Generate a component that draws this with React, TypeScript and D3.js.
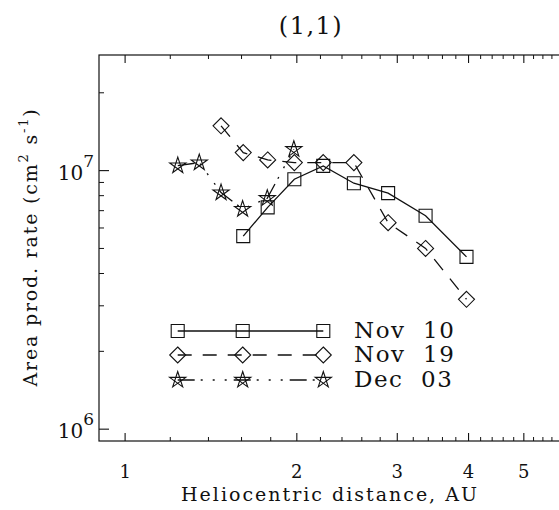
import React from "react";
import * as d3 from "d3";

const W = 559;
const H = 510;

// Data (heliocentric distance in AU, area production rate cm^2 s^-1)
const nov10X = [1.611, 1.778, 1.98, 2.225, 2.518, 2.891, 3.363, 3.967];
const nov10Y = [5.58e6, 7.21e6, 9.26e6, 1.043e7, 8.94e6, 8.18e6, 6.69e6, 4.64e6];

const nov19X = [1.473, 1.611, 1.778, 1.98, 2.225, 2.518, 2.891, 3.363, 3.967];
const nov19Y = [1.49e7, 1.174e7, 1.1e7, 1.074e7, 1.074e7, 1.074e7, 6.29e6, 5.0e6, 3.18e6];

const dec03X = [1.237, 1.349, 1.473, 1.607, 1.775, 1.976];
const dec03Y = [1.046e7, 1.074e7, 8.22e6, 7.1e6, 7.82e6, 1.21e7];

const seriesNames = ["Nov 10", "Nov 19", "Dec 03"];
const xMajorTicks = [1, 2, 3, 4, 5];
const yMajorTicks = [1e6, 1e7];

const FONT = "'DejaVu Serif', serif";
const INK = "#111";

function symbolPath(kind: string, cx: number, cy: number): string {
  if (kind === "square") {
    const s = 6.5;
    return `M${cx - s},${cy - s}H${cx + s}V${cy + s}H${cx - s}Z`;
  }
  if (kind === "diamond") {
    const s = 8;
    return `M${cx},${cy - s}L${cx + s},${cy}L${cx},${cy + s}L${cx - s},${cy}Z`;
  }
  // pentagram
  const r = 8.5;
  const pts: [number, number][] = [];
  for (let k = 0; k < 5; k++) {
    const a = (-90 + k * 144) * (Math.PI / 180);
    pts.push([cx + r * Math.cos(a), cy + r * Math.sin(a)]);
  }
  return "M" + pts.map((p) => p.join(",")).join("L") + "Z";
}

export default function App() {
  const x0 = 99, x1 = 569, yTop = 55, yBot = 441;
  const x = d3.scaleLog().domain([0.9, 6]).range([x0, x1]);
  const y = d3.scaleLog().domain([9e5, 2.8e7]).range([yBot, yTop]);

  const xMinor: number[] = [];
  for (let v = 1.2; v < 6; v += 0.2) {
    const r = Math.round(v * 10) / 10;
    if (!xMajorTicks.includes(r)) xMinor.push(r);
  }
  const yMinor: number[] = [];
  [1e6, 1e7].forEach((d) => {
    for (let m = 2; m <= 9; m++) {
      const v = d * m;
      if (v < 2.8e7) yMinor.push(v);
    }
  });

  const line = d3
    .line<[number, number]>()
    .x((d) => x(d[0]))
    .y((d) => y(d[1]));

  const series = [
    { name: seriesNames[0], xs: nov10X, ys: nov10Y, sym: "square", dash: "none" },
    { name: seriesNames[1], xs: nov19X, ys: nov19Y, sym: "diamond", dash: "14,11" },
    { name: seriesNames[2], xs: dec03X, ys: dec03Y, sym: "star", dash: "17,6,2,10,2,10,2,7" },
  ];

  const legX = [177.7, 242.7, 323.3];
  const legY = [331, 355, 380];

  return (
    <svg
      width={W}
      height={H}
      style={{ position: "fixed", left: 0, top: 0, background: "#fff" }}
      fontFamily={FONT}
    >
      <rect x={0} y={0} width={W} height={H} fill="#fff" />

      {/* title */}
      <text x={311} y={34} textAnchor="middle" fontSize={24} fill={INK} letterSpacing={1.5}>
        (1,1)
      </text>

      {/* frame */}
      <rect x={x0} y={yTop} width={x1 - x0} height={yBot - yTop} fill="none" stroke={INK} strokeWidth={1.2} />

      {/* x ticks */}
      {xMajorTicks.map((t) => (
        <g key={"xm" + t}>
          <line x1={x(t)} x2={x(t)} y1={yBot} y2={yBot - 8} stroke={INK} strokeWidth={1.1} />
          <line x1={x(t)} x2={x(t)} y1={yTop} y2={yTop + 8} stroke={INK} strokeWidth={1.1} />
          <text x={x(t)} y={478} textAnchor="middle" fontSize={18} fill={INK}>
            {t}
          </text>
        </g>
      ))}
      {xMinor.map((t) => (
        <g key={"xn" + t}>
          <line x1={x(t)} x2={x(t)} y1={yBot} y2={yBot - 4} stroke={INK} strokeWidth={1} />
          <line x1={x(t)} x2={x(t)} y1={yTop} y2={yTop + 4} stroke={INK} strokeWidth={1} />
        </g>
      ))}

      {/* y ticks */}
      {yMajorTicks.map((t) => (
        <g key={"ym" + t}>
          <line x1={x0} x2={x0 + 10} y1={y(t)} y2={y(t)} stroke={INK} strokeWidth={1.1} />
          <line x1={x1} x2={x1 - 10} y1={y(t)} y2={y(t)} stroke={INK} strokeWidth={1.1} />
          <text x={94} y={y(t) + 9} textAnchor="end" fontSize={20} fill={INK}>
            10
            <tspan dy={-13} fontSize={17}>
              {Math.round(Math.log10(t))}
            </tspan>
          </text>
        </g>
      ))}
      {yMinor.map((t) => (
        <g key={"yn" + t}>
          <line x1={x0} x2={x0 + 5} y1={y(t)} y2={y(t)} stroke={INK} strokeWidth={1} />
          <line x1={x1} x2={x1 - 5} y1={y(t)} y2={y(t)} stroke={INK} strokeWidth={1} />
        </g>
      ))}

      {/* axis titles */}
      <text x={330} y={501} textAnchor="middle" fontSize={19} fill={INK} letterSpacing={2}>
        Heliocentric distance, AU
      </text>
      <text
        transform="translate(37,247) rotate(-90)"
        textAnchor="middle"
        fontSize={19}
        fill={INK}
        letterSpacing={1.8}
      >
        Area prod. rate (cm
        <tspan dy={-9} fontSize={13}>2</tspan>
        <tspan dy={9}> s</tspan>
        <tspan dy={-9} fontSize={13}>-1</tspan>
        <tspan dy={9}>)</tspan>
      </text>

      {/* data */}
      {series.map((s) => {
        const pts: [number, number][] = s.xs.map((v, i) => [v, s.ys[i]]);
        return (
          <g key={s.name}>
            <path
              d={line(pts) || ""}
              fill="none"
              stroke={INK}
              strokeWidth={1.3}
              strokeDasharray={s.dash}
            />
            {pts.map((p, i) => (
              <path
                key={i}
                d={symbolPath(s.sym, x(p[0]), y(p[1]))}
                fill="none"
                stroke={INK}
                strokeWidth={1.1}
              />
            ))}
          </g>
        );
      })}

      {/* legend */}
      {series.map((s, j) => (
        <g key={"leg" + s.name}>
          <line
            x1={legX[0]}
            x2={legX[2]}
            y1={legY[j]}
            y2={legY[j]}
            stroke={INK}
            strokeWidth={1.3}
            strokeDasharray={s.dash}
          />
          {legX.map((lx, i) => (
            <path key={i} d={symbolPath(s.sym, lx, legY[j])} fill="none" stroke={INK} strokeWidth={1.1} />
          ))}
          <text x={354} y={legY[j] + 7} fontSize={23} fill={INK} letterSpacing={1.5}>
            {s.name.replace(" ", "\u00a0\u00a0")}
          </text>
        </g>
      ))}
    </svg>
  );
}
